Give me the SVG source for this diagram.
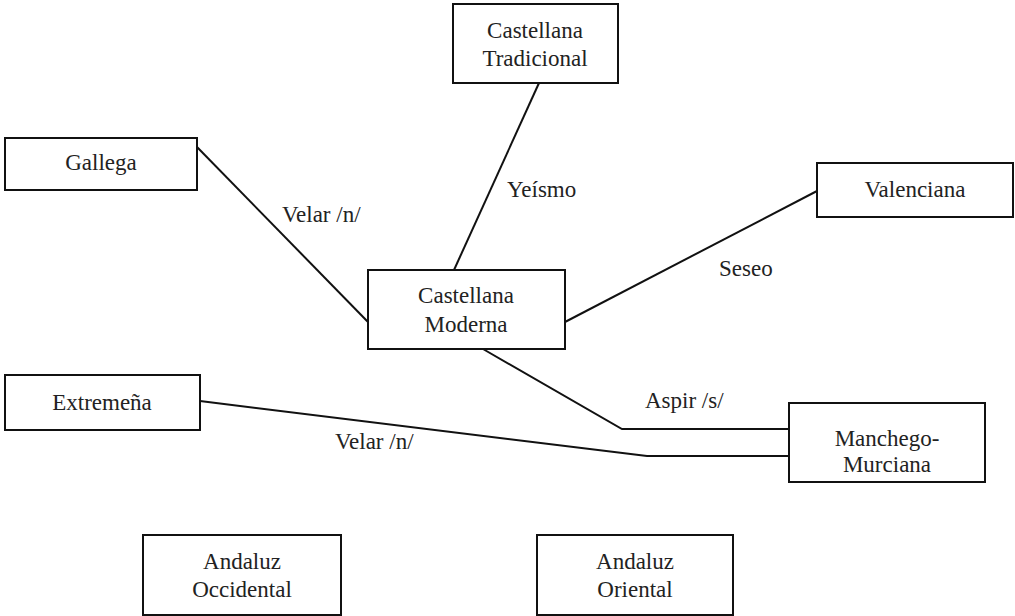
<svg xmlns="http://www.w3.org/2000/svg" width="1015" height="616" viewBox="0 0 1015 616">
<style>
.box{fill:#fff;stroke:#111;stroke-width:2}
text{font-family:'Liberation Serif','Times New Roman',serif;font-size:23px;fill:#222}
.t{text-anchor:middle}
.c{fill:none;stroke:#111;stroke-width:2}
</style>
<rect width="1015" height="616" fill="#fff"/>
<g id="connectors">
<line class="c" x1="539" y1="83" x2="454" y2="270"/>
<line class="c" x1="197" y1="147" x2="368" y2="322"/>
<line class="c" x1="565" y1="322" x2="817" y2="191"/>
<polyline class="c" points="483,349 622,429 789,429"/>
<polyline class="c" points="200,401 647,456 789,456"/>
<text x="507" y="197">Yeísmo</text>
<text x="282" y="222">Velar /n/</text>
<text x="719" y="276">Seseo</text>
<text x="645" y="408">Aspir /s/</text>
<text x="335" y="449">Velar /n/</text>
</g>
<g id="castellana-tradicional"><rect class="box" x="453" y="4" width="165" height="79"/><text class="t" x="535" y="38">Castellana</text><text class="t" x="535" y="66">Tradicional</text></g>
<g id="gallega"><rect class="box" x="5" y="138" width="192" height="52"/><text class="t" x="101" y="170">Gallega</text></g>
<g id="castellana-moderna"><rect class="box" x="368" y="270" width="197" height="79"/><text class="t" x="466" y="303">Castellana</text><text class="t" x="466" y="332">Moderna</text></g>
<g id="valenciana"><rect class="box" x="817" y="163" width="196" height="54"/><text class="t" x="915" y="197">Valenciana</text></g>
<g id="extremena"><rect class="box" x="5" y="375" width="195" height="55"/><text class="t" x="102" y="410">Extremeña</text></g>
<g id="manchego-murciana"><rect class="box" x="789" y="403" width="196" height="79"/><text class="t" x="887" y="446">Manchego-</text><text class="t" x="887" y="472">Murciana</text></g>
<g id="andaluz-occidental"><rect class="box" x="143" y="535" width="198" height="80"/><text class="t" x="242" y="569">Andaluz</text><text class="t" x="242" y="597">Occidental</text></g>
<g id="andaluz-oriental"><rect class="box" x="537" y="535" width="196" height="80"/><text class="t" x="635" y="569">Andaluz</text><text class="t" x="635" y="597">Oriental</text></g>
</svg>
